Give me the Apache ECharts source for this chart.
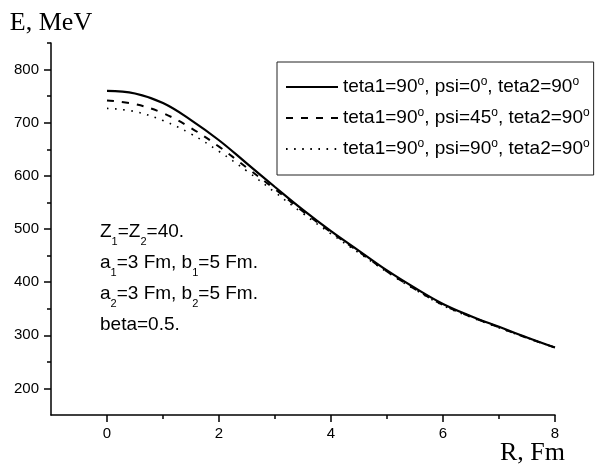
<!DOCTYPE html>
<html><head><meta charset="utf-8">
<script src="https://cdn.jsdelivr.net/npm/echarts@6/dist/echarts.min.js"></script>
<style>html,body{margin:0;padding:0;background:#fff}#c{width:605px;height:475px}</style>
</head><body><div id="c"></div>
<script>
// ---- data ----
const rValues = [0, 0.5, 1, 1.5, 2, 2.5, 3, 3.5, 4, 4.5, 5, 5.5, 6, 6.5, 7, 7.5, 8];
const ePsi0  = [760, 755, 737, 705, 667, 623, 579, 536, 496, 459, 422, 389, 359, 336, 316, 296, 277];
const ePsi45 = [742, 735, 718, 690, 655, 615, 575, 533, 494, 457, 420, 387, 357, 335, 315, 295, 277];
const ePsi90 = [727, 721, 704, 679, 646, 609, 569, 529, 491, 455, 419, 386, 356, 334, 314, 295, 277];
const seriesNames = [
  'teta1=90°, psi=0°, teta2=90°',
  'teta1=90°, psi=45°, teta2=90°',
  'teta1=90°, psi=90°, teta2=90°'
];
const xMajorTicks = [0, 2, 4, 6, 8];
const xMinorTicks = [1, 3, 5, 7];
const yMajorTicks = [200, 300, 400, 500, 600, 700, 800];
const yMinorTicks = [250, 350, 450, 550, 650, 750, 850];
const xAxisTitle = 'R, Fm';
const yAxisTitle = 'E, MeV';
const annotationLines = [
  '{m|Z}{b|1}{m|=Z}{b|2}{m|=40.}',
  '{m|a}{b|1}{m|=3 Fm, b}{b|1}{m|=5 Fm.}',
  '{m|a}{b|2}{m|=3 Fm, b}{b|2}{m|=5 Fm.}',
  '{m|beta=0.5.}'
];

// ---- chart ----
const SANS = '"Liberation Sans", Arial, sans-serif';
const SERIF = '"Liberation Serif", "Times New Roman", serif';
const seriesData = [ePsi0, ePsi45, ePsi90];
const lineStyles = [
  { color: '#000', width: 2.2, type: 'solid' },
  { color: '#000', width: 2, type: [7, 8] },
  { color: '#000', width: 1.6, type: [1.6, 6.5] }
];
const axisLineStyle = { color: '#000', width: 1.5 };

const chart = echarts.init(document.getElementById('c'), null, { renderer: 'canvas' });
chart.setOption({
  animation: false,
  backgroundColor: '#fff',
  grid: { left: 51, right: 50, top: 43, bottom: 60, outerBoundsMode: 'none' },
  xAxis: [
    {
      type: 'value', min: -1, max: 8, position: 'bottom',
      axisLine: { show: true, onZero: false, lineStyle: axisLineStyle },
      axisTick: { show: true, customValues: xMajorTicks, length: 7, lineStyle: axisLineStyle },
      axisLabel: { show: true, customValues: xMajorTicks, color: '#000', fontSize: 15, fontFamily: SANS, margin: 11 },
      splitLine: { show: false }
    },
    {
      type: 'value', min: -1, max: 8, position: 'bottom',
      axisLine: { show: false, onZero: false },
      axisTick: { show: true, customValues: xMinorTicks, length: 4, lineStyle: axisLineStyle },
      axisLabel: { show: false },
      splitLine: { show: false }
    }
  ],
  yAxis: [
    {
      type: 'value', min: 150, max: 850, position: 'left',
      axisLine: { show: true, onZero: false, lineStyle: axisLineStyle },
      axisTick: { show: true, customValues: yMajorTicks, length: 7, lineStyle: axisLineStyle },
      axisLabel: { show: true, customValues: yMajorTicks, color: '#000', fontSize: 15, fontFamily: SANS, margin: 12 },
      splitLine: { show: false },
      name: yAxisTitle, nameLocation: 'end', nameGap: 7,
      nameTextStyle: { fontFamily: SERIF, fontSize: 26, color: '#000', lineHeight: 26, align: 'center' }
    },
    {
      type: 'value', min: 150, max: 850, position: 'left',
      axisLine: { show: false, onZero: false },
      axisTick: { show: true, customValues: yMinorTicks, length: 4, lineStyle: axisLineStyle },
      axisLabel: { show: false },
      splitLine: { show: false }
    }
  ],
  legend: {
    orient: 'vertical', left: 277, top: 62,
    padding: [14, 4, 11, 8], itemGap: 5, itemWidth: 52, itemHeight: 14,
    borderColor: '#222', borderWidth: 1, backgroundColor: '#fff',
    selectedMode: false,
    itemStyle: { opacity: 0 },
    textStyle: {
      fontSize: 19, fontFamily: SANS, color: '#000', lineHeight: 22,
      rich: { s: { fontSize: 12, fontFamily: SANS, color: '#000', lineHeight: 8, padding: [0, 0, 14, 0], verticalAlign: 'top' } }
    },
    formatter: n => n.replace(/°/g, '{s|o}'),
    data: seriesNames
  },
  graphic: [
    {
      type: 'text', left: 100, top: 216, silent: true,
      style: {
        text: annotationLines.join('\n'),
        fill: '#000',
        rich: {
          m: { fontSize: 19, fontFamily: SANS, fill: '#000', lineHeight: 31 },
          b: { fontSize: 11, fontFamily: SANS, fill: '#000', lineHeight: 11, padding: [20, 0, 0, 0] }
        }
      }
    },
    {
      type: 'text', left: 500, top: 440, silent: true,
      style: { text: xAxisTitle, fill: '#000', font: '26px ' + SERIF }
    }
  ],
  series: seriesNames.map((n, i) => ({
    type: 'line', name: n, xAxisIndex: 0, yAxisIndex: 0,
    data: rValues.map((r, j) => [r, seriesData[i][j]]),
    smooth: 0.4, symbol: 'none', showSymbol: false, silent: true,
    itemStyle: { color: '#000' },
    lineStyle: lineStyles[i]
  }))
});
</script>
</body></html>
